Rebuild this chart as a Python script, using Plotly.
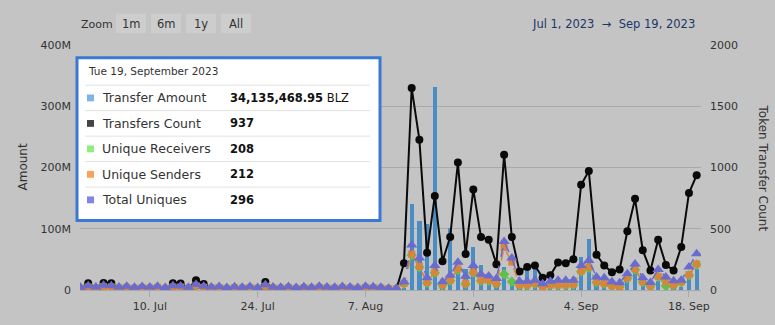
import plotly.graph_objects as go
import pandas as pd

dates = pd.date_range("2023-07-01", "2023-09-19", freq="D")

transfer_amount_m = [1.2, 1.5, 0.8, 1.4, 1.2, 0.9, 1.0, 0.8, 1.0, 0.9, 1.0, 0.8, 1.3, 1.2, 0.9, 1.6, 1.1, 0.9, 1.0, 0.8,
                     0.9, 0.8, 1.0, 0.8, 1.5, 0.9, 0.8, 1.0, 0.8, 0.9, 0.8, 1.0, 0.9, 0.8, 1.0, 0.9, 0.8, 1.0, 0.9, 0.8,
                     0.6, 0.6,
                     2, 140, 113, 107, 332, 4, 102, 35, 35, 71, 41, 11, 11, 37, 12, 5, 31, 34, 3, 3,
                     4, 5, 6, 54, 84, 16, 5, 5, 3, 15, 28, 12, 3, 14, 10, 3, 5, 19, 34.135]

transfers_count = [10, 55, 13, 58, 55, 13, 18, 10, 16, 12, 18, 8, 55, 53, 10, 80, 50, 13, 16, 8,
                   14, 10, 16, 8, 65, 13, 10, 16, 8, 14, 10, 18, 13, 10, 16, 12, 8, 18, 14, 10,
                   3, 3,
                   218, 1648, 1227, 304, 768, 235, 432, 1040, 293, 821, 432, 411, 211, 1104, 432, 152, 187, 200, 99, 120,
                   224, 219, 251, 859, 971, 288, 200, 144, 168, 480, 744, 325, 160, 411, 205, 160, 352, 792, 937]

unique_receivers = [13, 22, 16, 25, 22, 16, 20, 13, 18, 15, 20, 12, 22, 21, 14, 30, 20, 16, 18, 12,
                    17, 14, 18, 12, 27, 16, 14, 18, 12, 17, 14, 20, 16, 14, 18, 15, 12, 20, 17, 14,
                    10, 10,
                    50, 285, 185, 58, 140, 38, 76, 165, 50, 140, 76, 76, 50, 128, 67, 38, 38, 50, 25, 38,
                    38, 38, 42, 150, 180, 63, 50, 33, 25, 95, 165, 63, 30, 108, 32, 38, 63, 120, 208]

unique_senders = [15, 25, 18, 28, 25, 18, 22, 15, 20, 17, 22, 14, 25, 24, 16, 33, 22, 18, 20, 14,
                  19, 16, 20, 14, 30, 18, 16, 20, 14, 19, 16, 22, 18, 16, 20, 17, 14, 22, 19, 16,
                  11, 11,
                  53, 293, 192, 61, 147, 40, 80, 173, 53, 147, 80, 80, 53, 347, 227, 40, 40, 53, 27, 40,
                  40, 40, 45, 155, 187, 67, 53, 35, 27, 99, 173, 67, 32, 112, 67, 40, 67, 125, 212]

total_uniques = [22, 35, 25, 38, 35, 25, 30, 22, 28, 24, 30, 20, 35, 33, 22, 45, 30, 25, 28, 20,
                 26, 22, 28, 20, 42, 25, 22, 28, 20, 26, 22, 30, 25, 22, 28, 24, 20, 30, 26, 22,
                 15, 15,
                 67, 368, 261, 101, 200, 67, 120, 227, 112, 200, 128, 115, 93, 395, 261, 72, 72, 80, 51, 72,
                 80, 80, 80, 200, 240, 107, 99, 67, 59, 133, 213, 101, 61, 168, 107, 75, 80, 187, 296]

left_tick_vals = [0, 100e6, 200e6, 300e6, 400e6]
left_tick_text = ["0", "100M", "200M", "300M", "400M"]
right_tick_vals = [0, 500, 1000, 1500, 2000]
x_tick_vals = ["2023-07-10", "2023-07-24", "2023-08-07", "2023-08-21", "2023-09-04", "2023-09-18"]

tooltip_title = "Tue 19, September 2023"
tooltip_rows = [("Transfer Amount", "34,135,468.95", " BLZ", "#7cb5ec"),
                ("Transfers Count", "937", "", "#434348"),
                ("Unique Receivers", "208", "", "#90ed7d"),
                ("Unique Senders", "212", "", "#f7a35c"),
                ("Total Uniques", "296", "", "#8085e9")]

BG = "#c4c4c4"
FONT = "DejaVu Sans"

fig = go.Figure()
fig.add_trace(go.Bar(x=dates, y=[v * 1e6 for v in transfer_amount_m], name="Transfer Amount",
                     marker=dict(color="#4b8cc3", line=dict(width=0)), width=0.55 * 86400000, yaxis="y"))
fig.add_trace(go.Scatter(x=dates, y=transfers_count, name="Transfers Count", yaxis="y2", mode="lines+markers",
                         line=dict(color="#0a0a0a", width=2), marker=dict(symbol="circle", size=8, color="#0a0a0a")))
fig.add_trace(go.Scatter(x=dates, y=unique_receivers, name="Unique Receivers", yaxis="y2", mode="lines+markers",
                         line=dict(color="#62c04a", width=1.5, dash="dash"),
                         marker=dict(symbol="diamond", size=8, color="#62c04a")))
fig.add_trace(go.Scatter(x=dates, y=unique_senders, name="Unique Senders", yaxis="y2", mode="lines+markers",
                         line=dict(color="#d8843a", width=1.5, dash="dash"),
                         marker=dict(symbol="square", size=7, color="#d8843a")))
fig.add_trace(go.Scatter(x=dates, y=total_uniques, name="Total Uniques", yaxis="y2", mode="lines+markers",
                         line=dict(color="#6a6bcf", width=1.5, dash="dash"),
                         marker=dict(symbol="triangle-up", size=10, color="#6a6bcf")))


def px(x):
    return (x - 80) / 621.0


def py(y):
    return (295 - y) / 250.0


shapes = []
annotations = []

# Zoom buttons
annotations.append(dict(x=px(79), y=py(24), xref="paper", yref="paper", text="Zoom", showarrow=False,
                        xanchor="left", yanchor="middle", font=dict(family=FONT, size=11, color="#333333")))
for label, x0, x1 in [("1m", 116, 146), ("6m", 151, 181), ("1y", 186, 216), ("All", 221, 251)]:
    shapes.append(dict(type="rect", xref="paper", yref="paper", x0=px(x0), x1=px(x1), y0=py(33), y1=py(13),
                       fillcolor="#cdcdcd", line=dict(width=0), layer="below"))
    annotations.append(dict(x=px((x0 + x1) / 2), y=py(24), xref="paper", yref="paper", text=label,
                            showarrow=False, xanchor="center", yanchor="middle",
                            font=dict(family=FONT, size=11.5, color="#333333")))

# Date range
annotations.append(dict(x=px(697), y=py(24), xref="paper", yref="paper",
                        text="Jul 1, 2023  \u2192  Sep 19, 2023", showarrow=False,
                        xanchor="right", yanchor="middle", font=dict(family=FONT, size=11.5, color="#1e3668")))

# Axis titles
annotations.append(dict(x=px(22), y=py(170), xref="paper", yref="paper", text="Amount", textangle=-90,
                        showarrow=False, xanchor="center", yanchor="middle",
                        font=dict(family=FONT, size=12, color="#333333")))
annotations.append(dict(x=px(763), y=py(170), xref="paper", yref="paper", text="Token Transfer Count",
                        textangle=90, showarrow=False, xanchor="center", yanchor="middle",
                        font=dict(family=FONT, size=12, color="#333333")))

# Tooltip
shapes.append(dict(type="rect", xref="paper", yref="paper", x0=px(77), x1=px(380), y0=py(224), y1=py(58),
                   fillcolor="white", line=dict(color="#3a78d6", width=3), layer="above"))
annotations.append(dict(x=px(86), y=py(72), xref="paper", yref="paper", text=tooltip_title, showarrow=False,
                        xanchor="left", yanchor="middle", font=dict(family=FONT, size=10.5, color="#333333")))
sep_ys = [86, 112, 138, 164, 190]
row_ys = [99, 125, 151, 177, 203]
for sy in sep_ys:
    shapes.append(dict(type="line", xref="paper", yref="paper", x0=px(85), x1=px(370), y0=py(sy), y1=py(sy),
                       line=dict(color="#e2e2e2", width=1), layer="above"))
for (name, val, unit, col), ry in zip(tooltip_rows, row_ys):
    shapes.append(dict(type="rect", xref="paper", yref="paper", x0=px(87), x1=px(94), y0=py(ry + 3.5),
                       y1=py(ry - 3.5), fillcolor=col, line=dict(width=0), layer="above"))
    annotations.append(dict(x=px(100), y=py(ry), xref="paper", yref="paper", text=name, showarrow=False,
                            xanchor="left", yanchor="middle", font=dict(family=FONT, size=12.5, color="#333333")))
    annotations.append(dict(x=px(228), y=py(ry), xref="paper", yref="paper",
                            text="<b>" + val + "</b>" + unit, showarrow=False,
                            xanchor="left", yanchor="middle", font=dict(family=FONT, size=11.5, color="#111111")))

fig.update_layout(
    width=775, height=325,
    margin=dict(l=80, r=74, t=45, b=30),
    paper_bgcolor=BG, plot_bgcolor=BG,
    showlegend=False, hovermode=False, bargap=0,
    font=dict(family=FONT, size=11, color="#333333"),
    xaxis=dict(type="date", range=["2023-06-30 22:30", "2023-09-19 13:30"], tickvals=x_tick_vals,
               tickformat="%-d. %b", showgrid=False, ticks="outside", ticklen=6, tickcolor="#a9a9a9",
               showline=True, linecolor="#a9a9a9", linewidth=1, zeroline=False,
               tickfont=dict(family=FONT, size=11, color="#333333")),
    yaxis=dict(range=[0, 400e6], tickvals=left_tick_vals, ticktext=left_tick_text, showgrid=True,
               gridcolor="#aaaaaa", gridwidth=1, zeroline=False, showline=False, ticklabelstandoff=8,
               tickfont=dict(family=FONT, size=11, color="#333333")),
    yaxis2=dict(range=[0, 2000], tickvals=right_tick_vals, overlaying="y", side="right", showgrid=False,
                zeroline=False, showline=False, ticklabelstandoff=8,
                tickfont=dict(family=FONT, size=11, color="#333333")),
    shapes=shapes, annotations=annotations,
)

fig.write_html("out.html")
